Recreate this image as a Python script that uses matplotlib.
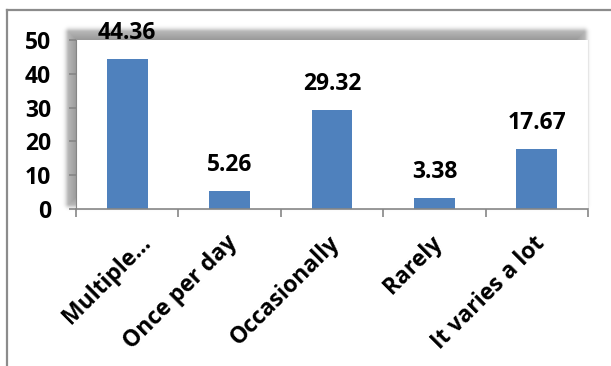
import numpy as np
import matplotlib.pyplot as plt
import matplotlib.transforms as mtransforms
from matplotlib.lines import Line2D

categories = ['Multiple...', 'Once per day', 'Occasionally', 'Rarely', 'It varies a lot']
values = [44.36, 5.26, 29.32, 3.38, 17.67]

fuente = 'Open Sans'
tam = 16.5

W, H = 611, 366
fig = plt.figure(figsize=(W / 100, H / 100), dpi=100)

# zona del grafico en pixeles
x0, x1, y0, y1 = 76, 588, 40, 209
pos = [x0 / W, 1 - y1 / H, (x1 - x0) / W, (y1 - y0) / H]

# sombra difusa detras del area de trazado (arriba e izquierda)
bg = fig.add_axes([0, 0, 1, 1], zorder=0)
bg.set_xlim(0, W)
bg.set_ylim(H, 0)
bg.axis('off')
yy, xx = np.mgrid[0:H, 0:W]
sx0, sx1, sy0, sy1 = x0 - 7, x1 - 5, y0 - 8, y1 - 6
dx = np.maximum(np.maximum(sx0 - xx, xx - sx1), 0)
dy = np.maximum(np.maximum(sy0 - yy, yy - sy1), 0)
d = np.hypot(dx, dy)
inside = np.clip(np.minimum(np.minimum(xx - sx0, sx1 - xx), np.minimum(yy - sy0, sy1 - yy)), 0, None)
sh = np.where(d > 0, np.exp(-(d / 4.0) ** 2), 1.0) * np.clip(0.55 + inside / 40, 0, 1)
rgba = np.zeros((H, W, 4))
rgba[..., 3] = sh * 0.55
bg.imshow(rgba, extent=(0, W, H, 0), interpolation='bilinear')

# marco exterior del grafico
bg.add_line(Line2D([7, W], [10, 10], color='#8c8c8c', lw=1.6))
bg.add_line(Line2D([7, 7], [10, H], color='#8c8c8c', lw=1.6))

ax = fig.add_axes(pos, zorder=1)
ax.set_facecolor('white')
x = np.arange(len(categories))
bars = ax.bar(x, values, width=0.4, color='#4F81BD')

ax.set_xlim(-0.5, len(categories) - 0.5)
ax.set_ylim(0, 50)
ax.set_yticks(range(0, 51, 10))
ax.set_yticklabels([str(v) for v in range(0, 51, 10)], fontsize=tam, fontweight='bold', family=fuente)

# etiquetas inclinadas (mayores) y marcas entre categorias (menores)
ax.set_xticks(x - 0.04)
ax.set_xticklabels(categories, rotation=45, ha='right', rotation_mode='anchor',
                   fontsize=16.5, fontweight='bold', family=fuente)
ax.set_xticks(np.arange(len(categories) + 1) - 0.5, minor=True)
ax.tick_params(axis='x', which='major', length=0, pad=16)
ax.tick_params(axis='x', which='minor', length=6, color='#868686', width=1.2)
ax.tick_params(axis='y', length=5, color='#868686', width=1.2, pad=13)

# la etiqueta recortada queda un poco mas a la derecha
lbl = ax.get_xticklabels()[0]
lbl.set_transform(lbl.get_transform() + mtransforms.ScaledTranslation(16 / 100, 0, fig.dpi_scale_trans))

ax.spines['top'].set_visible(False)
ax.spines['right'].set_color('#e6e6e6')
ax.spines['left'].set_color('#868686')
ax.spines['bottom'].set_color('#868686')
ax.spines['bottom'].set_linewidth(1.2)

for b, v in zip(bars, values):
    ax.annotate(f'{v:.2f}', (b.get_x() + b.get_width() / 2, v), xytext=(0, 10),
                textcoords='offset points', ha='center', va='bottom',
                fontsize=tam, fontweight='bold', family=fuente, annotation_clip=False)

fig.savefig('out.png', dpi=100)
